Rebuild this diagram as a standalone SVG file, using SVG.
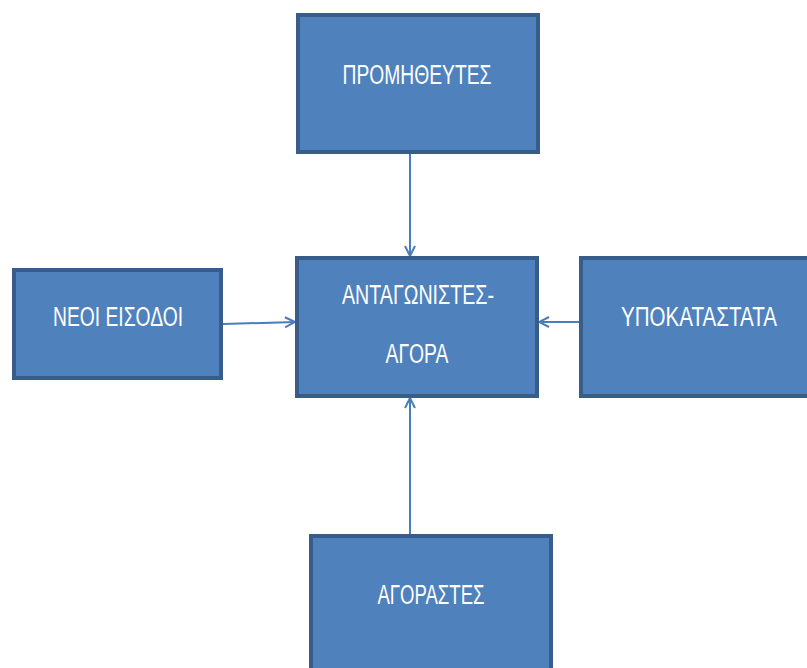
<svg xmlns="http://www.w3.org/2000/svg" width="807" height="668" viewBox="0 0 807 668">
<style>
.box{fill:#4f81bd;stroke:#385d8a;stroke-width:4}
.lbl{font-family:"Liberation Sans Narrow","Liberation Sans",Arial,sans-serif;font-size:27px;fill:#ffffff;text-anchor:middle}
.con{stroke:#4a7ebb;stroke-width:2;fill:none}
</style>
<defs>
<marker id="arr" viewBox="0 0 12 12" refX="11" refY="6" markerWidth="12" markerHeight="12" markerUnits="userSpaceOnUse" orient="auto">
<path d="M1,1 L11,6 L1,11" fill="none" stroke="#4a7ebb" stroke-width="2"/>
</marker>
</defs>
<rect width="807" height="668" fill="#ffffff"/>
<g id="connectors">
<line class="con" x1="410" y1="154" x2="410" y2="256" marker-end="url(#arr)"/>
<line class="con" x1="223" y1="324" x2="295" y2="322" marker-end="url(#arr)"/>
<line class="con" x1="580" y1="322" x2="539" y2="322" marker-end="url(#arr)"/>
<line class="con" x1="410" y1="534" x2="410" y2="398" marker-end="url(#arr)"/>
</g>
<g id="promitheftes">
<rect class="box" x="298" y="15" width="240" height="137"/>
<text class="lbl" x="417" y="84" textLength="149" lengthAdjust="spacingAndGlyphs">ΠΡΟΜΗΘΕΥΤΕΣ</text>
</g>
<g id="neoi-eisodoi">
<rect class="box" x="14" y="270" width="207" height="108"/>
<text class="lbl" x="118" y="326" textLength="130" lengthAdjust="spacingAndGlyphs">ΝΕΟΙ ΕΙΣΟΔΟΙ</text>
</g>
<g id="antagonistes">
<rect class="box" x="297" y="258" width="240" height="138"/>
<text class="lbl" x="418" y="304" textLength="152" lengthAdjust="spacingAndGlyphs">ΑΝΤΑΓΩΝΙΣΤΕΣ-</text>
<text class="lbl" x="417" y="363" textLength="63" lengthAdjust="spacingAndGlyphs">ΑΓΟΡΑ</text>
</g>
<g id="ypokatastata">
<rect class="box" x="581" y="258" width="232" height="138"/>
<text class="lbl" x="699" y="326" textLength="156" lengthAdjust="spacingAndGlyphs">ΥΠΟΚΑΤΑΣΤΑΤΑ</text>
</g>
<g id="agorastes">
<rect class="box" x="311" y="536" width="240" height="140"/>
<text class="lbl" x="431" y="604" textLength="107" lengthAdjust="spacingAndGlyphs">ΑΓΟΡΑΣΤΕΣ</text>
</g>
</svg>
